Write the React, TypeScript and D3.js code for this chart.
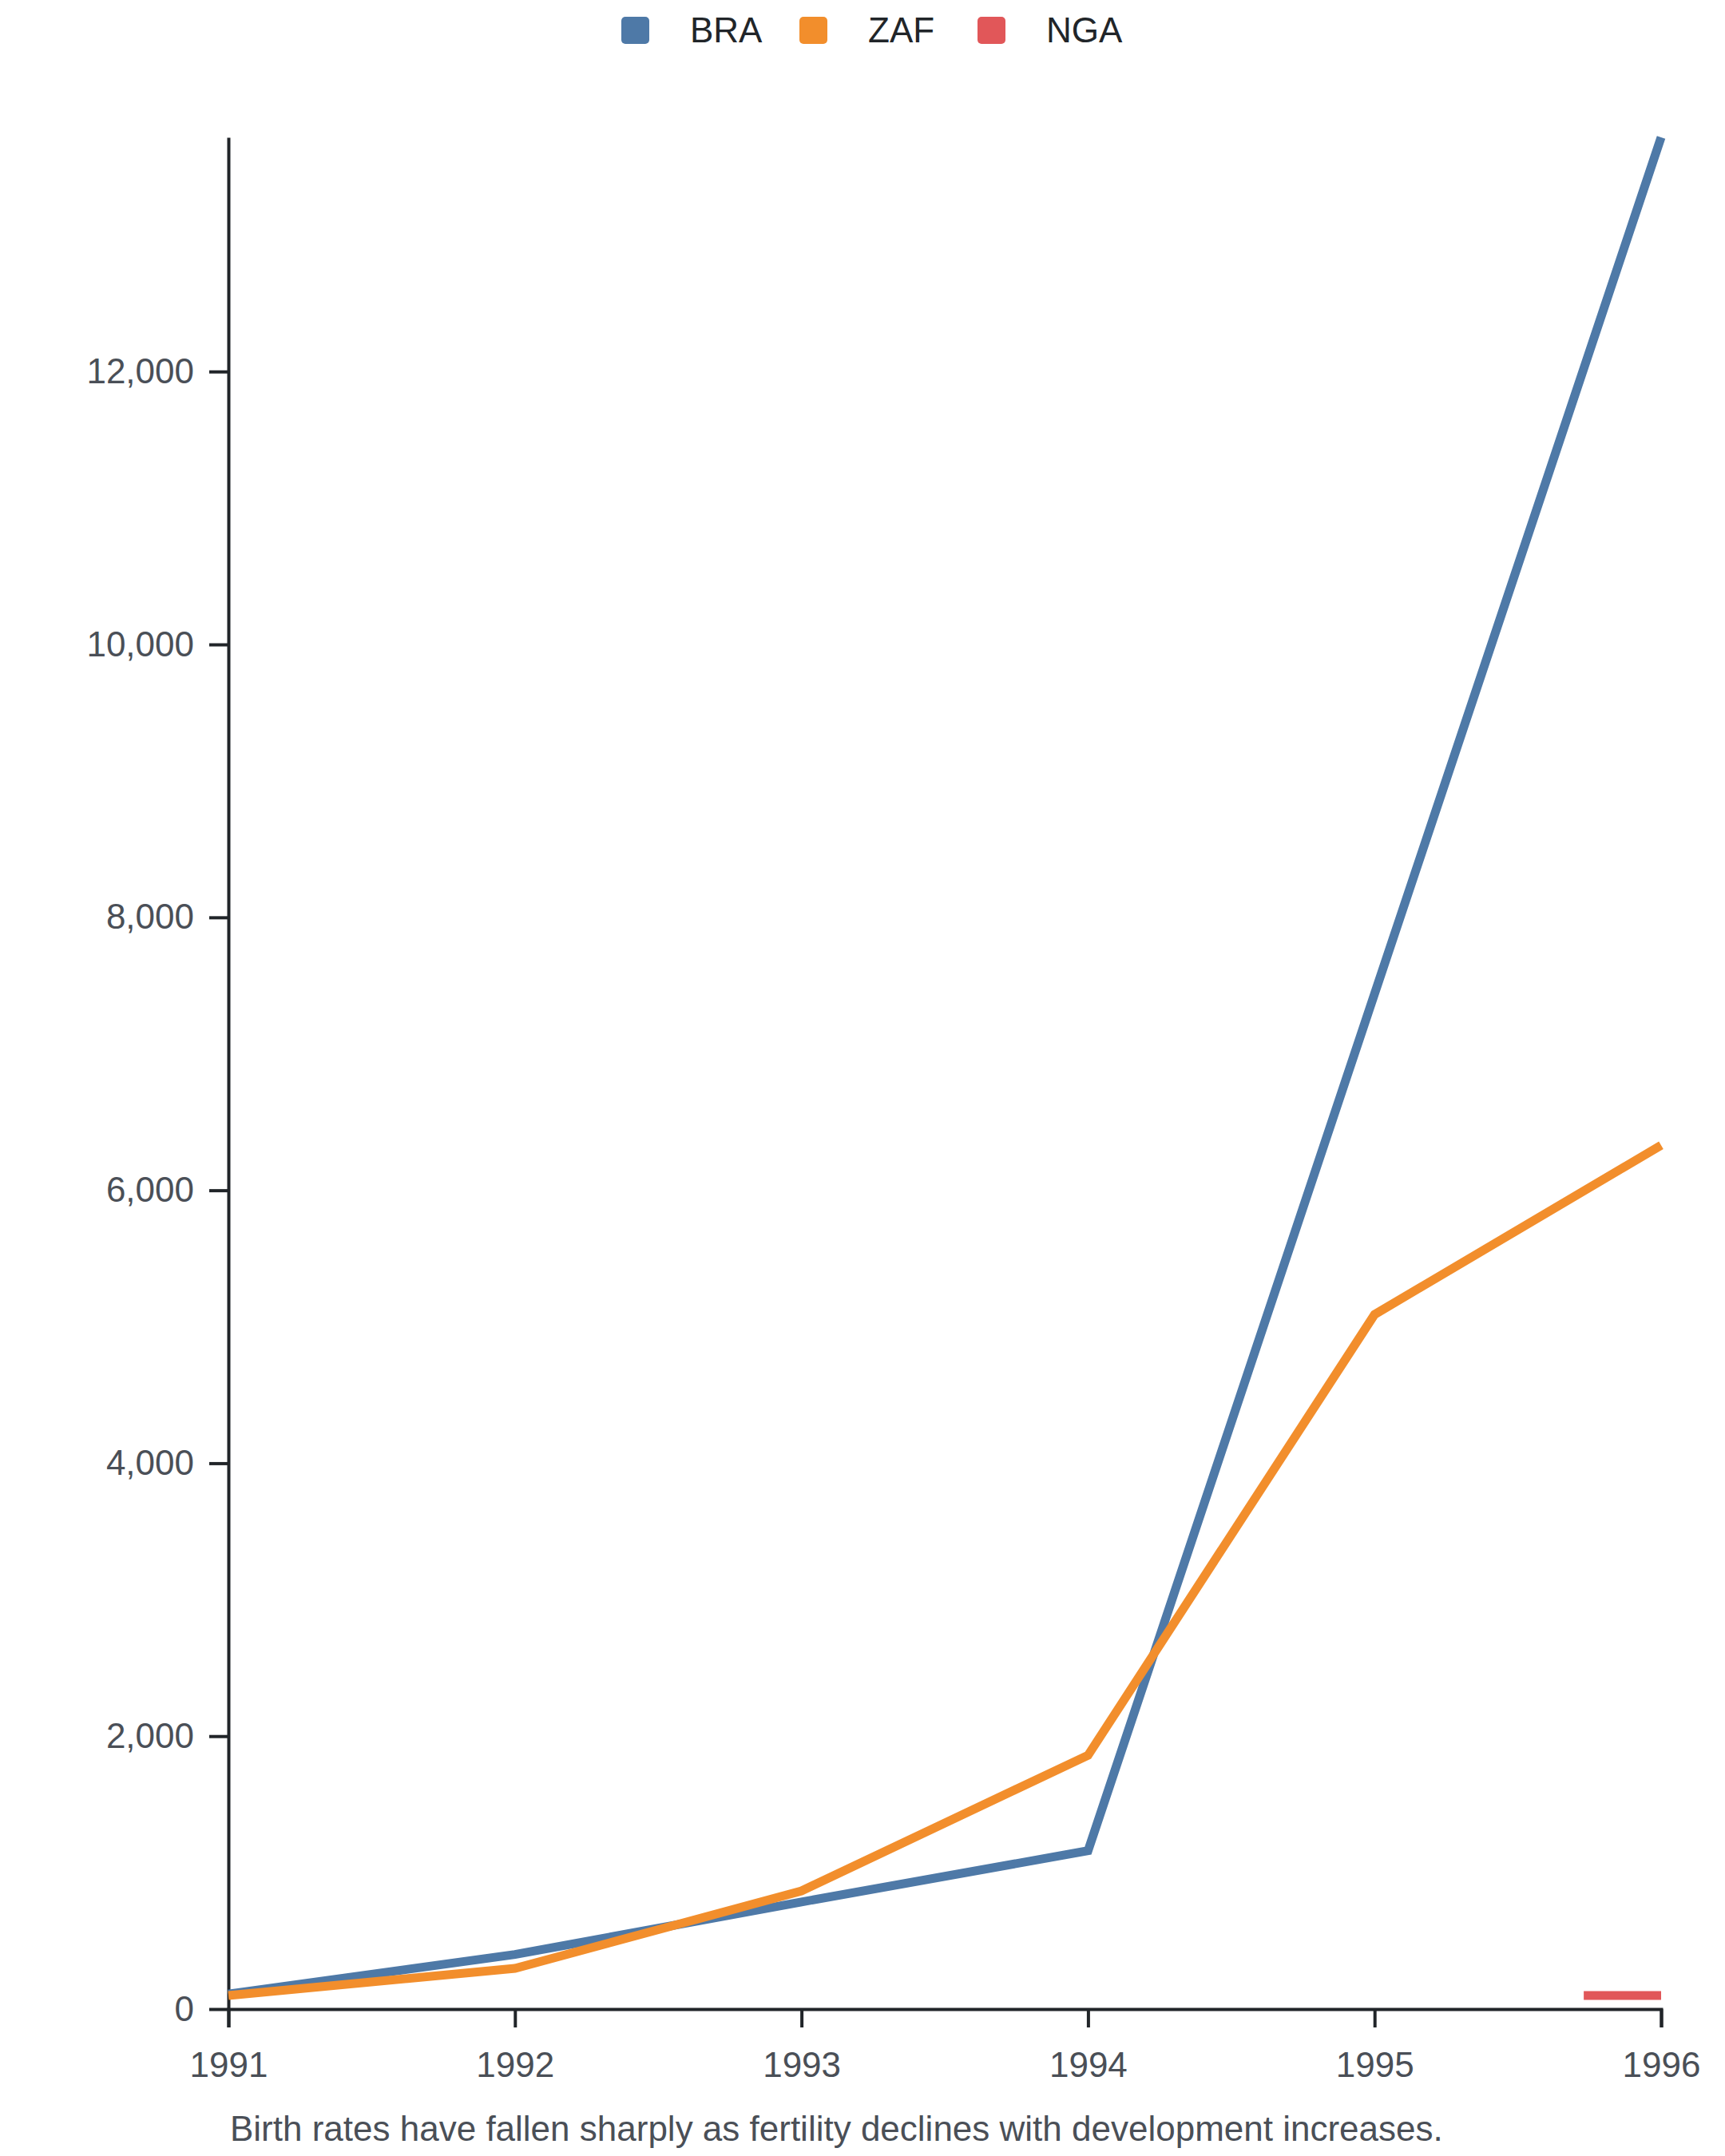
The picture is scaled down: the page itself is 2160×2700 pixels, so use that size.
import * as d3 from "d3";
import { useEffect, useRef } from "react";

const years = [1991, 1992, 1993, 1994, 1995, 1996];
const braValues = [110, 400, 785, 1160, 7440, 13716];
const zafValues = [100, 298, 866, 1860, 5090, 6330];
// NGA only shows up at the very end of the range
const ngaYears = [1995.73, 1996];
const ngaValues = [100, 100];

const seriesNames = ["BRA", "ZAF", "NGA"];
const seriesColors = ["#4e79a7", "#f28e2c", "#e15759"];
const yTicks = [0, 2000, 4000, 6000, 8000, 10000, 12000];
const caption = "Birth rates have fallen sharply as fertility declines with development increases.";

export default function App() {
  const width = 2160;
  const height = 2700;
  const marginTop = 172;
  const marginRight = 80;
  const marginBottom = 184;
  const marginLeft = 286;

  const xAxisRef = useRef<SVGGElement>(null);
  const yAxisRef = useRef<SVGGElement>(null);

  const x = d3.scaleLinear([years[0], years[years.length - 1]], [marginLeft, width - marginRight]);
  const maxValue = d3.max([...braValues, ...zafValues, ...ngaValues]) ?? 0;
  const y = d3.scaleLinear([0, maxValue], [height - marginBottom, marginTop]);

  const line = d3.line<[number, number]>(d => x(d[0]), d => y(d[1]));
  const braLine = line(years.map((yr, i) => [yr, braValues[i]]));
  const zafLine = line(years.map((yr, i) => [yr, zafValues[i]]));
  const ngaLine = line(ngaYears.map((yr, i) => [yr, ngaValues[i]]));

  useEffect(() => {
    const xAxis = d3.axisBottom(x)
      .tickValues(years)
      .tickFormat(d3.format("d"))
      .tickSize(23)
      .tickPadding(31);
    const yAxis = d3.axisLeft(y)
      .tickValues(yTicks)
      .tickFormat(d3.format(","))
      .tickSizeInner(24)
      .tickSizeOuter(0)
      .tickPadding(19);

    const gx = d3.select(xAxisRef.current);
    gx.selectAll("*").remove();
    gx.call(xAxis);
    const gy = d3.select(yAxisRef.current);
    gy.selectAll("*").remove();
    gy.call(yAxis);

    [gx, gy].forEach(g => {
      g.attr("font-size", 44).attr("font-family", "Liberation Sans, Arial, sans-serif");
      g.selectAll("path, line").attr("stroke", "#212529").attr("stroke-width", 4);
      g.selectAll("text").attr("fill", "#4a4f57");
    });
  }, []);

  const legendStart = 778;
  const legendStep = 223;

  return (
    <svg
      width={width}
      height={height}
      style={{ position: "absolute", left: 0, top: 0, background: "#fff" }}
      fontFamily="Liberation Sans, Arial, sans-serif"
      xmlns="http://www.w3.org/2000/svg"
    >
      {/* legend */}
      {seriesNames.map((name, i) => (
        <g key={name} transform={`translate(${legendStart + i * legendStep}, 21)`}>
          <rect width={35} height={34} rx={5} fill={seriesColors[i]} />
          <text x={86} y={32} fontSize={44} fill="#212529">{name}</text>
        </g>
      ))}

      <g ref={xAxisRef} transform={`translate(0, ${height - marginBottom})`} />
      <g ref={yAxisRef} transform={`translate(${marginLeft}, 0)`} />

      <path d={braLine ?? ""} fill="none" stroke={seriesColors[0]} strokeWidth={11} />
      <path d={zafLine ?? ""} fill="none" stroke={seriesColors[1]} strokeWidth={11} />
      <path d={ngaLine ?? ""} fill="none" stroke={seriesColors[2]} strokeWidth={11} />

      <text x={288} y={2681} fontSize={44} fill="#4a4f57">{caption}</text>
    </svg>
  );
}
